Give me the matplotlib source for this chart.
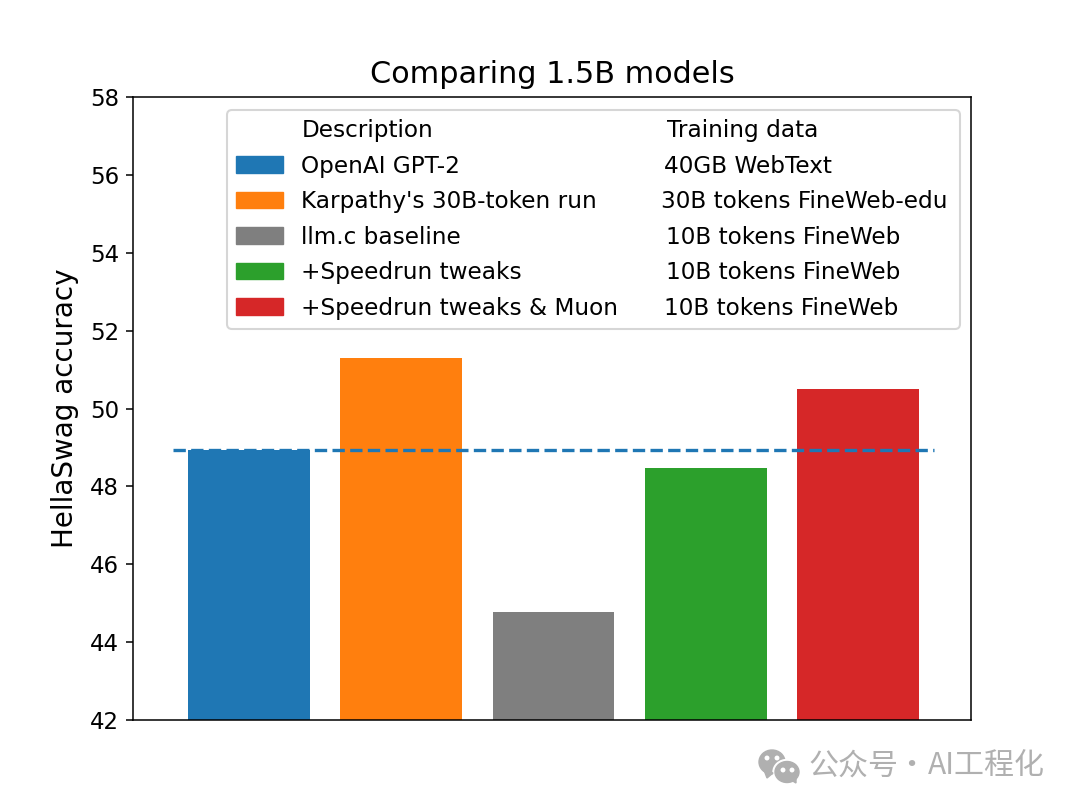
import matplotlib
matplotlib.use("Agg")
import matplotlib.pyplot as plt
from matplotlib.patches import Rectangle, Ellipse, Polygon

labels = ["OpenAI GPT-2", "Karpathy's 30B-token run", "llm.c baseline", "+Speedrun tweaks", "+Speedrun tweaks & Muon"]
data_desc = ["40GB WebText", "30B tokens FineWeb-edu", "10B tokens FineWeb", "10B tokens FineWeb", "10B tokens FineWeb"]
acc = [48.94, 51.3, 44.78, 48.47, 50.5]
colors = ["tab:blue", "tab:orange", "tab:gray", "tab:green", "tab:red"]
baseline = 48.94

W, H = 1080, 810
fig = plt.figure(figsize=(10.8, 8.1), dpi=100)
ax = fig.add_axes([133/W, 1-720/H, (971-133)/W, (720-97)/H])

x = list(range(len(acc)))
ax.bar(x, acc, color=colors, width=0.8)
ax.plot([-0.5, 4.5], [baseline, baseline], "--", color="tab:blue", lw=2.4)
ax.set_ylim(42, 58)
ax.set_xlim(-0.76, 4.74)
ax.set_xticks([])
ax.tick_params(axis="y", labelsize=16.5, length=5, width=1.1, pad=5)
ax.set_ylabel("HellaSwag accuracy", fontsize=20, labelpad=8)
ax.set_title("Comparing 1.5B models", fontsize=21.8, pad=10)
for s in ax.spines.values():
    s.set_linewidth(1.1)

# legend as a two column table
handles = [Rectangle((0, 0), 1, 1, color=c) for c in colors]
blank = Rectangle((0, 0), 1, 1, alpha=0)
empty = Rectangle((0, 0), 1, 1, alpha=0)
all_handles = [blank] + handles + [empty] * 6
all_labels = ["Description"] + labels + ["Training data"] + data_desc
leg = ax.legend(all_handles, all_labels, ncol=2, loc="upper right", fontsize=16.7,
                bbox_to_anchor=((960-133)/838, 1-13/623), borderaxespad=0, framealpha=0.8,
                labelspacing=0.537, columnspacing=-0.82, handlelength=2.0, handletextpad=0.8)
leg.get_frame().set_linewidth(1.5)

# second column is not quite left aligned in the original
col2_shift = [3, 0, -3, 2, 2, 0]
for t, dx in zip(leg.get_texts()[6:], col2_shift):
    t.set_position((dx, 0))

# watermark
grey = "#b0b0b0"
def px(cx, cy):
    return cx/W, 1-cy/H
for cx, cy, rx, ry, c in [(772, 762, 13, 12, grey), (787, 772, 14, 12.5, "white"), (787, 772, 12, 10.5, grey)]:
    fig.add_artist(Ellipse(px(cx, cy), 2*rx/W, 2*ry/H, color=c, transform=fig.transFigure))
fig.add_artist(Polygon([px(764, 770), px(767, 778), px(773, 773)], color=grey, transform=fig.transFigure))
fig.add_artist(Polygon([px(791, 780), px(796, 783), px(796, 777)], color=grey, transform=fig.transFigure))
for cx, cy in [(767, 758), (777, 758), (783, 770), (792, 770)]:
    fig.add_artist(Ellipse(px(cx, cy), 3.5/W, 3.5/H, color="white", transform=fig.transFigure))
cjk = ["Noto Sans CJK SC", "DejaVu Sans"]
fig.text(808/W, 1-766/H, "公众号", ha="left", va="center", fontsize=21.6, color=grey, family=cjk)
fig.text(911/W, 1-766/H, "·", ha="center", va="center", fontsize=21.6, color=grey, family=cjk)
fig.text(1045/W, 1-766/H, "AI工程化", ha="right", va="center", fontsize=21.6, color=grey, family=cjk)
fig.savefig("out.png", dpi=100)
